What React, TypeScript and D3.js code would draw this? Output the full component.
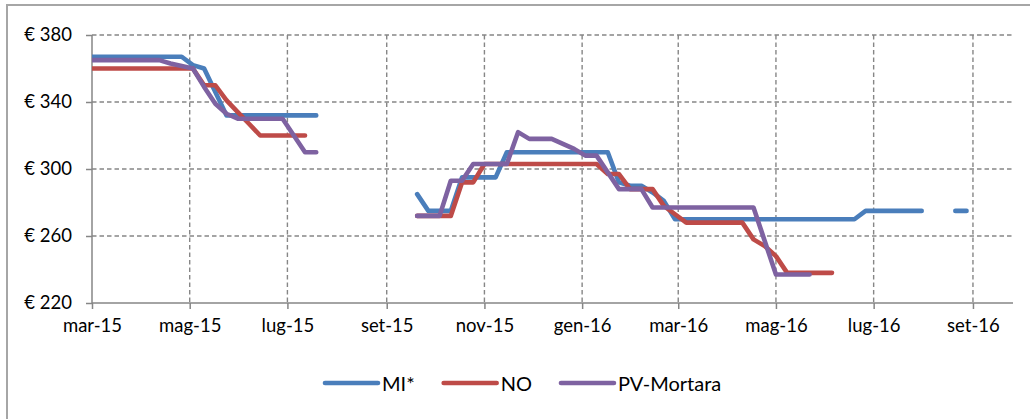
import React, { useRef, useEffect } from 'react';
import * as d3 from 'd3';

// weekly price dates (Sunday)
const weeks = [
  '2015-03-01', '2015-03-08', '2015-03-15', '2015-03-22', '2015-03-29', '2015-04-05', '2015-04-12', '2015-04-19',
  '2015-04-26', '2015-05-03', '2015-05-10', '2015-05-17', '2015-05-24', '2015-05-31', '2015-06-07', '2015-06-14',
  '2015-06-21', '2015-06-28', '2015-07-05', '2015-07-12', '2015-07-19', '2015-07-26', '2015-08-02', '2015-08-09',
  '2015-08-16', '2015-08-23', '2015-08-30', '2015-09-06', '2015-09-13', '2015-09-20', '2015-09-27', '2015-10-04',
  '2015-10-11', '2015-10-18', '2015-10-25', '2015-11-01', '2015-11-08', '2015-11-15', '2015-11-22', '2015-11-29',
  '2015-12-06', '2015-12-13', '2015-12-20', '2015-12-27', '2016-01-03', '2016-01-10', '2016-01-17', '2016-01-24',
  '2016-01-31', '2016-02-07', '2016-02-14', '2016-02-21', '2016-02-28', '2016-03-06', '2016-03-13', '2016-03-20',
  '2016-03-27', '2016-04-03', '2016-04-10', '2016-04-17', '2016-04-24', '2016-05-01', '2016-05-08', '2016-05-15',
  '2016-05-22', '2016-05-29', '2016-06-05', '2016-06-12', '2016-06-19', '2016-06-26', '2016-07-03', '2016-07-10',
  '2016-07-17', '2016-07-24', '2016-07-31', '2016-08-07', '2016-08-14', '2016-08-21', '2016-08-28',
];

const miValues = [
  367, 367, 367, 367, 367, 367, 367, 367, 367, 362, 360, 346, 332, 332, 332, 332,
  332, 332, 332, 332, 332, null, null, null, null, null, null, null, null, 285, 275, 275,
  275, 295, 295, 295, 295, 310, 310, 310, 310, 310, 310, 310, 310, 310, 310, 292,
  290, 290, 286, 281, 270, 270, 270, 270, 270, 270, 270, 270, 270, 270, 270, 270,
  270, 270, 270, 270, 270, 275, 275, 275, 275, 275, 275, null, null, 275, 275,
];

const noValues = [
  360, 360, 360, 360, 360, 360, 360, 360, 360, 360, 350, 350, 341, 334, 327, 320,
  320, 320, 320, 320, null, null, null, null, null, null, null, null, null, 272, 272, 272,
  272, 292, 292, 303, 303, 303, 303, 303, 303, 303, 303, 303, 303, 303, 297, 297,
  288, 288, 288, 278, 273, 268, 268, 268, 268, 268, 268, 258, 254, 248, 238, 238,
  238, 238, 238, null, null, null, null, null, null, null, null, null, null, null, null,
];

const pvValues = [
  365, 365, 365, 365, 365, 365, 365, 363, 361.5, 360, 349, 339, 333, 330, 330, 330,
  330, 330, 320, 310, 310, null, null, null, null, null, null, null, null, 272, 272, 272,
  293, 293, 303, 303, 303, 303, 322, 318, 318, 318, 315, 312, 308, 308, 298, 288,
  288, 288, 277, 277, 277, 277, 277, 277, 277, 277, 277, 277, 257, 237, 237, 237,
  237, null, null, null, null, null, null, null, null, null, null, null, null, null, null,
];

const seriesNames = ['MI*', 'NO', 'PV-Mortara'];
const seriesColors = ['#4A7EBB', '#BE4B48', '#7E62A1'];
const yTicks = [220, 260, 300, 340, 380];
const xTickDates = [
  '2015-03-01', '2015-05-01', '2015-07-01', '2015-09-01', '2015-11-01',
  '2016-01-01', '2016-03-01', '2016-05-01', '2016-07-01', '2016-09-01',
];
const xTickLabels = [
  'mar-15', 'mag-15', 'lug-15', 'set-15', 'nov-15',
  'gen-16', 'mar-16', 'mag-16', 'lug-16', 'set-16',
];

const W = 1030;
const H = 419;
const FONT = 'Lato, "Open Sans", sans-serif';

const PriceChart = () => {
  const svgRef = useRef(null);

  useEffect(() => {
    const svg = d3.select(svgRef.current);
    svg.selectAll('*').remove();

    const parse = d3.timeParse('%Y-%m-%d');
    const dates = weeks.map((w) => parse(w));

    // plot area
    const left = 92;
    const right = 1013;
    const top = 35;
    const bottom = 303;

    const x = d3
      .scaleTime()
      .domain([parse('2015-03-01'), parse('2016-09-26')])
      .range([left, right]);
    const y = d3.scaleLinear().domain([220, 380]).range([bottom, top]);

    // outer frame
    svg
      .append('rect')
      .attr('x', 7)
      .attr('y', 5)
      .attr('width', W + 20)
      .attr('height', H + 20)
      .attr('fill', '#fff')
      .attr('stroke', '#a6a6a6')
      .attr('stroke-width', 2);

    const grid = '#868686';

    // horizontal gridlines
    svg
      .append('g')
      .selectAll('line')
      .data(yTicks.slice(1))
      .join('line')
      .attr('x1', left)
      .attr('x2', right)
      .attr('y1', (d) => y(d))
      .attr('y2', (d) => y(d))
      .attr('stroke', grid)
      .attr('stroke-width', 1.4)
      .attr('stroke-dasharray', '4.5,3');

    // vertical gridlines
    const tickDates = xTickDates.map((d) => parse(d));
    svg
      .append('g')
      .selectAll('line')
      .data(tickDates.slice(1))
      .join('line')
      .attr('x1', (d) => x(d))
      .attr('x2', (d) => x(d))
      .attr('y1', top)
      .attr('y2', bottom)
      .attr('stroke', grid)
      .attr('stroke-width', 1.4)
      .attr('stroke-dasharray', '4.5,3');

    // axes
    const yAxis = d3
      .axisLeft(y)
      .tickValues(yTicks)
      .tickSize(6)
      .tickPadding(14)
      .tickFormat((d) => '€ ' + d);
    const gy = svg.append('g').attr('transform', `translate(${left},0)`).call(yAxis);

    const xAxis = d3
      .axisBottom(x)
      .tickValues(tickDates)
      .tickSize(6)
      .tickPadding(10)
      .tickFormat((d, i) => xTickLabels[i]);
    const gx = svg.append('g').attr('transform', `translate(0,${bottom})`).call(xAxis);
    gx.select('.domain').attr('d', `M${left},0H${right}`);
    gy.select('.domain').attr('d', `M0,${top}V${bottom}`);

    [gx, gy].forEach((g) => {
      g.selectAll('.domain, .tick line').attr('stroke', grid).attr('stroke-width', 1.5);
      g.selectAll('text')
        .attr('font-family', FONT)
        .attr('font-size', 18.5)
        .attr('fill', '#000');
    });

    // series
    svg
      .append('clipPath')
      .attr('id', 'plot-clip')
      .append('rect')
      .attr('x', left)
      .attr('y', top - 10)
      .attr('width', right - left)
      .attr('height', bottom - top + 20);

    const allValues = [miValues, noValues, pvValues];
    const myLine = d3
      .line()
      .defined((d) => d[1] != null)
      .x((d) => x(d[0]))
      .y((d) => y(d[1]));

    svg
      .append('g')
      .attr('clip-path', 'url(#plot-clip)')
      .selectAll('path')
      .data(allValues)
      .join('path')
      .attr('d', (vals) => myLine(vals.map((v, i) => [dates[i], v])))
      .attr('fill', 'none')
      .attr('stroke', (d, i) => seriesColors[i])
      .attr('stroke-width', 4.6)
      .attr('stroke-linejoin', 'round')
      .attr('stroke-linecap', 'round');

    // legend
    const legend = svg.append('g').attr('transform', 'translate(325,383)');
    let cx = 0;
    seriesNames.forEach((name, i) => {
      legend
        .append('line')
        .attr('x1', cx)
        .attr('x2', cx + 53)
        .attr('stroke', seriesColors[i])
        .attr('stroke-width', 4.6)
        .attr('stroke-linecap', 'round');
      const t = legend
        .append('text')
        .attr('x', cx + 57)
        .attr('y', 7.5)
        .attr('font-family', FONT)
        .attr('font-size', 20)
        .text(name);
      cx += 57 + t.node().getComputedTextLength() + 29;
    });
  }, []);

  return (
    <svg
      ref={svgRef}
      width={W}
      height={H}
      style={{ position: 'absolute', left: 0, top: 0, background: '#fff' }}
    ></svg>
  );
};

export default function App() {
  return <PriceChart />;
}
